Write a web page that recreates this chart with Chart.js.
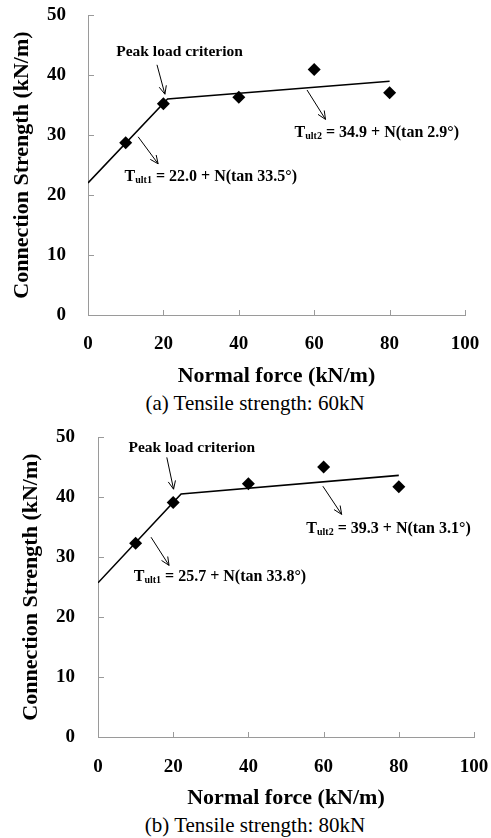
<!DOCTYPE html>
<html><head><meta charset="utf-8">
<script src="https://cdn.jsdelivr.net/npm/chart.js@4/dist/chart.umd.min.js"></script>
<style>
html,body{margin:0;padding:0;background:#fff;width:491px;height:838px;overflow:hidden}
#wrap{position:relative;width:491px;height:838px}
canvas{position:absolute;left:0}
.cap{position:absolute;left:0;width:510px;text-align:center;font:21px "Liberation Serif",serif;color:#000;line-height:24px}
</style></head><body>
<div id="wrap">
<canvas id="ca" width="491" height="390" style="top:0px"></canvas>
<div class="cap" style="top:391px">(a) Tensile strength: 60kN</div>
<canvas id="cb" width="491" height="390" style="top:422px"></canvas>
<div class="cap" style="top:813px">(b) Tensile strength: 80kN</div>
</div>
<script>
// ---- data ----
const normalForce = [10, 20, 40, 60, 80];
const strength60 = [28.7, 35.2, 36.3, 40.9, 37.05];
const strength80 = [32.3, 39.1, 42.2, 45.0, 41.7];
const fit60X = [0, 21.1, 80];
const fit60Y = [22.0, 36.0, 38.95];
const fit80X = [0, 22.1, 80];
const fit80Y = [25.7, 40.5, 43.6];
const xTickValues = [0, 20, 40, 60, 80, 100];
const yTickValues = [0, 10, 20, 30, 40, 50];
const peakLabel = 'Peak load criterion';
const eq60a = ['T', 'ult1', ' = 22.0 + N(tan 33.5°)'];
const eq60b = ['T', 'ult2', ' = 34.9 + N(tan 2.9°)'];
const eq80a = ['T', 'ult1', ' = 25.7 + N(tan 33.8°)'];
const eq80b = ['T', 'ult2', ' = 39.3 + N(tan 3.1°)'];
const xTitle = 'Normal force (kN/m)';
const yTitle = 'Connection Strength (kN/m)';

const SERIF = '"Liberation Serif", "Times New Roman", serif';

const notesPlugin = {
  id: 'notes',
  afterDatasetsDraw(chart, args, opts) {
    const ctx = chart.ctx;
    const xs = chart.scales.x, ys = chart.scales.y;
    const ca = chart.chartArea;
    ctx.save();
    ctx.strokeStyle = '#9a9a9a';
    ctx.lineWidth = 1;
    xTickValues.forEach(v => {
      const px = Math.round(xs.getPixelForValue(v)) + 0.5;
      ctx.beginPath(); ctx.moveTo(px, ca.bottom); ctx.lineTo(px, ca.bottom - 5); ctx.stroke();
    });
    yTickValues.forEach(v => {
      const py = Math.round(ys.getPixelForValue(v)) + 0.5;
      ctx.beginPath(); ctx.moveTo(ca.left, py); ctx.lineTo(ca.left + 6, py); ctx.stroke();
    });
    ctx.strokeStyle = '#000';
    ctx.lineWidth = 1;
    (opts.arrows || []).forEach(a => {
      const x1 = xs.getPixelForValue(a[0]), y1 = ys.getPixelForValue(a[1]);
      const x2 = xs.getPixelForValue(a[2]), y2 = ys.getPixelForValue(a[3]);
      ctx.beginPath(); ctx.moveTo(x1, y1); ctx.lineTo(x2, y2); ctx.stroke();
      const ang = Math.atan2(y2 - y1, x2 - x1);
      const L = 9, w = 0.42;
      ctx.beginPath();
      ctx.moveTo(x2 - L * Math.cos(ang - w), y2 - L * Math.sin(ang - w));
      ctx.lineTo(x2, y2);
      ctx.lineTo(x2 - L * Math.cos(ang + w), y2 - L * Math.sin(ang + w));
      ctx.stroke();
    });
    ctx.fillStyle = '#000';
    ctx.textBaseline = 'middle';
    ctx.textAlign = 'left';
    (opts.texts || []).forEach(t => {
      let px = xs.getPixelForValue(t.x), py = ys.getPixelForValue(t.y);
      if (typeof t.text === 'string') {
        ctx.font = 'bold 15.5px ' + SERIF;
        ctx.fillText(t.text, px, py);
      } else {
        ctx.font = 'bold 16px ' + SERIF;
        ctx.fillText(t.text[0], px, py);
        px += ctx.measureText(t.text[0]).width;
        ctx.font = 'bold 10px ' + SERIF;
        ctx.fillText(t.text[1], px, py + 4);
        px += ctx.measureText(t.text[1]).width;
        ctx.font = 'bold 16px ' + SERIF;
        ctx.fillText(t.text[2], px, py);
      }
    });
    ctx.restore();
  }
};

function makeChart(id, values, fitX, fitY, L, notes) {
  const pts = normalForce.map((x, i) => ({x: x, y: values[i]}));
  const fit = fitX.map((x, i) => ({x: x, y: fitY[i]}));
  return new Chart(document.getElementById(id), {
    type: 'scatter',
    data: {
      datasets: [
        {data: fit, showLine: true, borderColor: '#000', borderWidth: 1.6, pointRadius: 0, fill: false, order: 2},
        {data: pts, pointStyle: 'rectRot', pointRadius: 6.5, backgroundColor: '#000', borderColor: '#000', borderWidth: 0, order: 1}
      ]
    },
    options: {
      responsive: false,
      animation: false,
      devicePixelRatio: 1,
      layout: {padding: {top: 15, right: L.right, left: 0, bottom: 0}},
      plugins: {legend: {display: false}, tooltip: {enabled: false}, notes: notes},
      scales: {
        x: {
          type: 'linear', min: 0, max: 100,
          afterBuildTicks: s => { s.ticks = xTickValues.map(v => ({value: v})); },
          afterFit: s => { s.height = 75; s.paddingLeft = 0; s.paddingRight = 0; },
          grid: {display: true, drawOnChartArea: false, drawTicks: false},
          border: {display: true, color: '#9a9a9a', width: 1},
          ticks: {color: '#000', padding: L.xpad, font: {family: SERIF, size: 19, weight: 'bold'}, maxRotation: 0},
          title: {display: true, text: xTitle, color: '#000', padding: {top: 0, bottom: 0}, font: {family: SERIF, size: 22, weight: 'bold'}}
        },
        y: {
          type: 'linear', min: 0, max: 50,
          afterBuildTicks: s => { s.ticks = yTickValues.map(v => ({value: v})); },
          afterFit: s => { s.width = L.axisW; s.paddingTop = 0; s.paddingBottom = 0; },
          grid: {display: true, drawOnChartArea: false, drawTicks: false},
          border: {display: true, color: '#9a9a9a', width: 1},
          ticks: {color: '#000', padding: L.ypad, font: {family: SERIF, size: 19, weight: 'bold'}},
          title: {display: true, text: yTitle, color: '#000', padding: {top: L.ytitle, bottom: 0}, font: {family: SERIF, size: 22, weight: 'bold'}}
        }
      }
    },
    plugins: [notesPlugin]
  });
}

makeChart('ca', strength60, fit60X, fit60Y,
  {right: 26, axisW: 88, xpad: 18, ypad: 22, ytitle: 9},
  {
    texts: [
      {x: 7.5, y: 43.8, text: peakLabel},
      {x: 9.7, y: 23.05, text: eq60a},
      {x: 54.8, y: 30.4, text: eq60b}
    ],
    arrows: [
      [18.3, 41.7, 20.4, 36.8],
      [13.3, 29.7, 18.6, 25.2],
      [58.1, 37.5, 63.0, 32.6]
    ]
  });

makeChart('cb', strength80, fit80X, fit80Y,
  {right: 17, axisW: 98, xpad: 19, ypad: 23, ytitle: 18},
  {
    texts: [
      {x: 8.1, y: 48.2, text: peakLabel},
      {x: 9.5, y: 26.7, text: eq80a},
      {x: 55.4, y: 34.7, text: eq80b}
    ],
    arrows: [
      [18.3, 46.6, 20.1, 41.3],
      [14.1, 33.3, 18.9, 28.6],
      [59.8, 41.8, 64.8, 37.1]
    ]
  });
</script>
</body></html>
